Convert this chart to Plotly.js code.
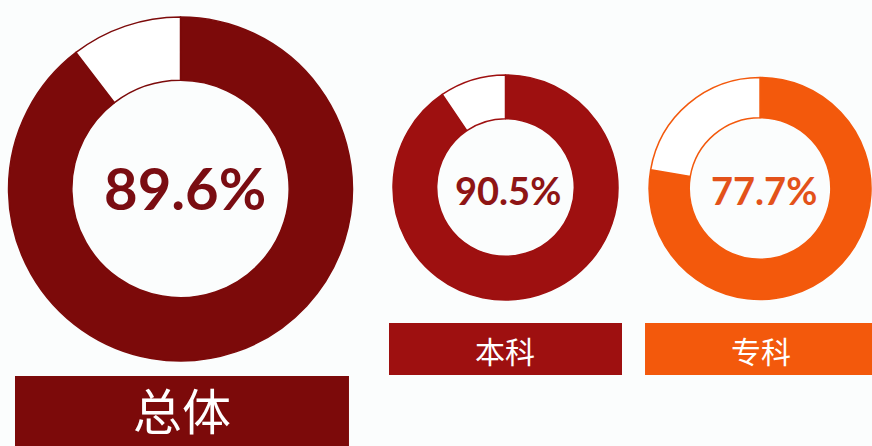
<!DOCTYPE html>
<html>
<head>
<meta charset="utf-8">
<script src="https://cdn.plot.ly/plotly-3.0.1.min.js"></script>
<style>html,body{margin:0;padding:0;background:#fbfdfd;}#chart{width:872px;height:446px;}</style>
</head>
<body>
<div id="chart"></div>
<script>
// Data
const groups = ['总体', '本科', '专科'];
const rates = [89.6, 90.5, 77.7];
const rateLabels = ['89.6%', '90.5%', '77.7%'];
const sliceNames = ['就业', '其他'];

// Styles
const colors = ['#7c0a0a', '#9e1010', '#f3590c'];
const textColors = ['#7a0d12', '#8e1515', '#e3521a'];
const holes = [0.632, 0.612, 0.638];
const domains = [
  {x: [0.0098, 0.4042], y: [0.1906, 0.9619]},
  {x: [0.4507, 0.7087], y: [0.3274, 0.8318]},
  {x: [0.7443, 0.9989], y: [0.3285, 0.8262]}
];
const centers = [[0.2127, 0.5800], [0.5820, 0.5730], [0.8756, 0.5730]];
const pctSizes = [58, 38, 38];
const boxes = [
  {x0: 0.0172, x1: 0.4002, y0: 0.0, y1: 0.157},
  {x0: 0.4461, x1: 0.7133, y0: 0.159, y1: 0.2758},
  {x0: 0.7397, x1: 1.0, y0: 0.159, y1: 0.2758}
];
const labelCenters = [0.083, 0.216, 0.216];
const labelSizes = [49, 30, 30];

const data = groups.map((g, i) => ({
  type: 'pie',
  values: [rates[i], 100 - rates[i]],
  labels: sliceNames,
  sort: false,
  direction: 'clockwise',
  rotation: 0,
  hole: holes[i],
  textinfo: 'none',
  hoverinfo: 'none',
  showlegend: false,
  domain: domains[i],
  marker: {colors: [colors[i], '#ffffff'], line: {color: colors[i], width: 1.5}}
}));

const annotations = [];
const shapes = [];
groups.forEach((g, i) => {
  annotations.push({
    xref: 'paper', yref: 'paper', x: centers[i][0], y: centers[i][1],
    text: '<b>' + rateLabels[i] + '</b>', showarrow: false,
    font: {family: 'Lato, "Open Sans", sans-serif', size: pctSizes[i], color: textColors[i]},
    xanchor: 'center', yanchor: 'middle'
  });
  shapes.push({type: 'rect', xref: 'paper', yref: 'paper',
    x0: boxes[i].x0, x1: boxes[i].x1, y0: boxes[i].y0, y1: boxes[i].y1,
    fillcolor: colors[i], line: {width: 0}, layer: 'above'});
  annotations.push({
    xref: 'paper', yref: 'paper', x: (boxes[i].x0 + boxes[i].x1) / 2 + (i === 2 ? 0.003 : 0),
    y: labelCenters[i],
    text: g, showarrow: false,
    font: {family: '"Noto Sans CJK SC", sans-serif', size: labelSizes[i], color: '#ffffff'},
    xanchor: 'center', yanchor: 'middle'
  });
});

const layout = {
  width: 872, height: 446,
  margin: {l: 0, r: 0, t: 0, b: 0},
  paper_bgcolor: '#fbfdfd',
  plot_bgcolor: '#fbfdfd',
  showlegend: false,
  annotations: annotations,
  shapes: shapes
};

Plotly.newPlot('chart', data, layout, {displayModeBar: false, staticPlot: true});
</script>
</body>
</html>
